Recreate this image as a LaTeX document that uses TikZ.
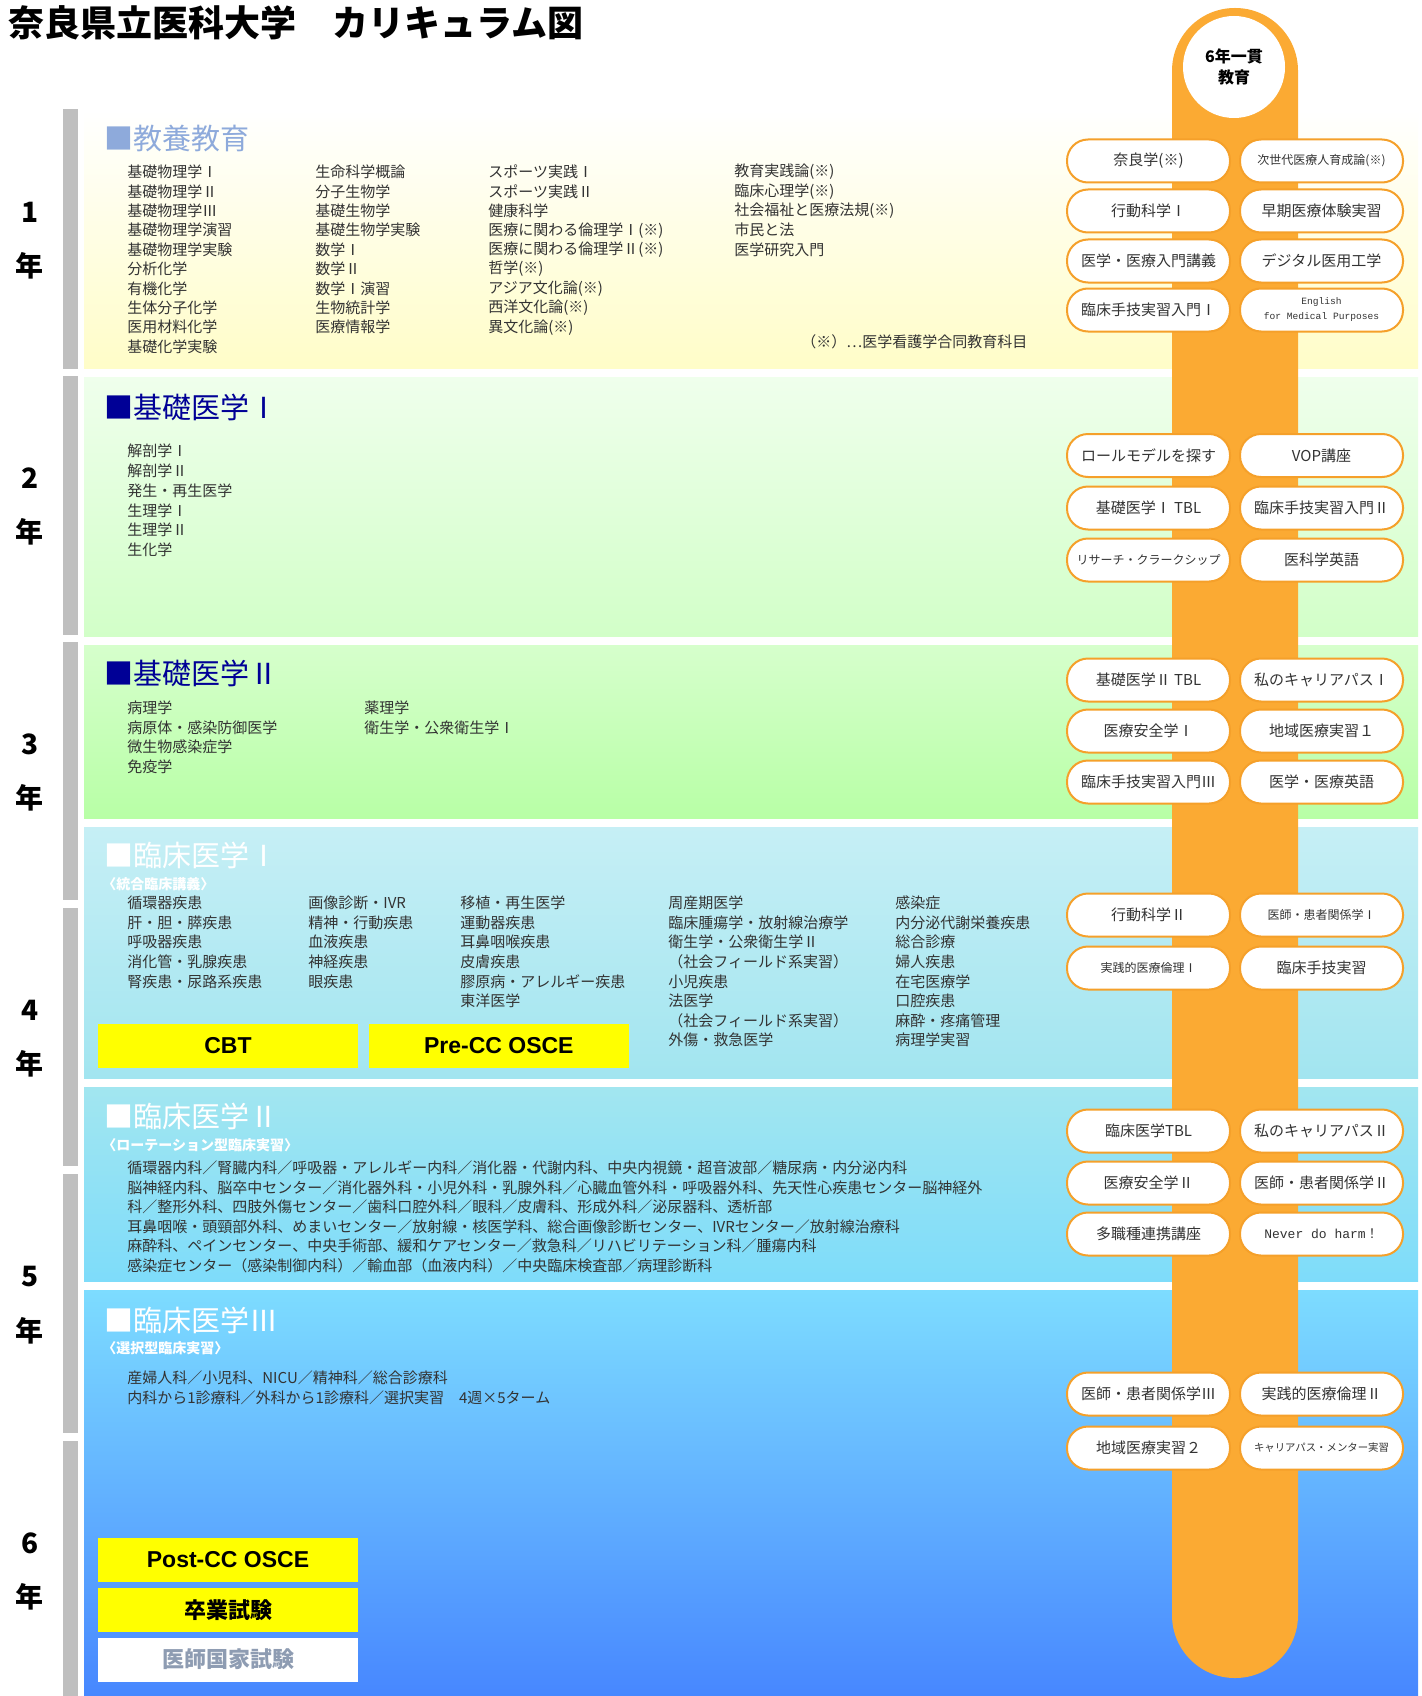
\documentclass[tikz,border=0pt]{standalone}
\usepackage{fontspec}
\setmainfont{Noto Sans CJK JP}
\setsansfont{Liberation Sans}
\setmonofont{Liberation Mono}
\usetikzlibrary{positioning}
\usepackage{xcolor}
\definecolor{txtcol}{HTML}{333333}
\definecolor{barcol}{HTML}{BFBFBF}
\definecolor{pillarcol}{HTML}{FBAA33}
\definecolor{pillline}{HTML}{F5A02A}
\definecolor{kyoyocol}{HTML}{8EAADB}
\definecolor{kisocol}{HTML}{000096}
\definecolor{examyellow}{HTML}{FFFF00}
\definecolor{kokushicol}{HTML}{8E9CB2}
\definecolor{pAtop}{HTML}{FFFFFF}
\definecolor{pAbot}{HTML}{FFFDC8}
\definecolor{pBtop}{HTML}{EFFFEC}
\definecolor{pBbot}{HTML}{D2FFC8}
\definecolor{pCtop}{HTML}{D6FFCC}
\definecolor{pCbot}{HTML}{B8FFA6}
\definecolor{pDtop}{HTML}{C6EFF5}
\definecolor{pDbot}{HTML}{A2E5F0}
\definecolor{pEtop}{HTML}{A2E6F0}
\definecolor{pEbot}{HTML}{7EDCFA}
\definecolor{pFtop}{HTML}{7DDCFF}
\definecolor{pFbot}{HTML}{4787FF}

\begin{document}
\begin{tikzpicture}[
    x=0.5pt, y=-0.5pt,
    pill/.style={
        draw=pillline, line width=1pt, fill=white, rounded corners=10.5pt,
        minimum width=81.5pt, minimum height=21.5pt, inner sep=0pt,
        align=center, text=txtcol, font=\fontsize{7.5}{9}\selectfont
    },
    pillsmall/.style={font=\fontsize{6}{7}\selectfont},
    pilltiny/.style={font=\fontsize{5.2}{6}\selectfont},
    item/.style={
        anchor=west, inner sep=0pt, text=txtcol, font=\fontsize{7.5}{9}\selectfont
    },
    heading/.style={anchor=west, inner sep=0pt, font=\fontsize{14.5}{16}\selectfont},
    subhead/.style={
        anchor=west, inner sep=0pt, text=white, font=\bfseries\fontsize{7}{8}\selectfont
    },
    yearlbl/.style={inner sep=0pt, font=\bfseries\fontsize{14}{16}\selectfont},
    exam/.style={
        fill=examyellow, minimum width=130pt, minimum height=22pt, inner sep=0pt,
        font=\sffamily\bfseries\fontsize{11.5}{13}\selectfont
    },
    examjp/.style={exam, font=\bfseries\fontsize{11}{13}\selectfont},
]

\useasboundingbox (0,0) rectangle (1421,1696);
\fill[white] (0,0) rectangle (1421,1696);

% ── Title ──
\node[anchor=west, inner sep=0pt, font=\bfseries\fontsize{18}{20}\selectfont]
    (title) at (8,23) {奈良県立医科大学　カリキュラム図};

% ── Year bars and labels ──
\foreach \a/\b in {109/369, 376/635, 642/900, 908/1166, 1174/1433, 1441/1696}
    \fill[barcol] (63,\a) rectangle (78,\b);
\foreach \n/\yc in {1/239, 2/505, 3/771, 4/1037, 5/1303.5, 6/1570} {
    \node[yearlbl] (yr\n)  at (30,\yc-27) {\n};
    \node[yearlbl] (nen\n) at (30,\yc+27) {年};
}

% ── Panels ──
\shade[top color=pAtop, bottom color=pAbot] (84,110)  rectangle (1418,368);
\shade[top color=pBtop, bottom color=pBbot] (84,377)  rectangle (1418,636);
\shade[top color=pCtop, bottom color=pCbot] (84,645)  rectangle (1418,818);
\shade[top color=pDtop, bottom color=pDbot] (84,827)  rectangle (1418,1078);
\shade[top color=pEtop, bottom color=pEbot] (84,1087) rectangle (1418,1281);
\shade[top color=pFtop, bottom color=pFbot] (84,1290) rectangle (1418,1696);

% ── 6-year pillar ──
\fill[pillarcol, rounded corners=31.4pt] (1172,8) rectangle (1298,1678);
\node[circle, fill=white, minimum size=51pt, inner sep=0pt, align=center,
      font=\bfseries\fontsize{8}{10.5}\selectfont] (core) at (1234,67)
    {6年一貫\\教育};

% ── Year 1 ──
\node[heading, text=kyoyocol] (kyoyo) at (104,138) {■教養教育};
\foreach \t [count=\i from 0] in {基礎物理学Ⅰ, 基礎物理学Ⅱ, 基礎物理学Ⅲ,
    基礎物理学演習, 基礎物理学実験, 分析化学, 有機化学, 生体分子化学,
    医用材料化学, 基礎化学実験}
    \node[item] (ka\i) at (127,172+19.4*\i) {\t};
\foreach \t [count=\i from 0] in {生命科学概論, 分子生物学, 基礎生物学,
    基礎生物学実験, 数学Ⅰ, 数学Ⅱ, 数学Ⅰ演習, 生物統計学, 医療情報学}
    \node[item] (kb\i) at (315,172+19.4*\i) {\t};
\foreach \t [count=\i from 0] in {スポーツ実践Ⅰ, スポーツ実践Ⅱ, 健康科学,
    医療に関わる倫理学Ⅰ(※), 医療に関わる倫理学Ⅱ(※), 哲学(※),
    アジア文化論(※), 西洋文化論(※), 異文化論(※)}
    \node[item] (kc\i) at (488,172+19.4*\i) {\t};
\foreach \t [count=\i from 0] in {教育実践論(※), 臨床心理学(※),
    社会福祉と医療法規(※), 市民と法, 医学研究入門}
    \node[item] (kd\i) at (734,172+19.4*\i) {\t};
\node[item] (gododan) at (801,342) {（※）…医学看護学合同教育科目};

% ── Year 2 ──
\node[heading, text=kisocol] (kisoA) at (104,407) {■基礎医学Ⅰ};
\foreach \t [count=\i from 0] in {解剖学Ⅰ, 解剖学Ⅱ, 発生・再生医学,
    生理学Ⅰ, 生理学Ⅱ, 生化学}
    \node[item] (ba\i) at (127,451+19.8*\i) {\t};

% ── Year 3 ──
\node[heading, text=kisocol] (kisoB) at (104,673) {■基礎医学Ⅱ};
\foreach \t [count=\i from 0] in {病理学, 病原体・感染防御医学, 微生物感染症学, 免疫学}
    \node[item] (ca\i) at (127,708+19.6*\i) {\t};
\foreach \t [count=\i from 0] in {薬理学, 衛生学・公衆衛生学Ⅰ}
    \node[item] (cb\i) at (364,708+19.6*\i) {\t};

% ── Year 4 ──
\node[heading, text=white] (rinA) at (104,855) {■臨床医学Ⅰ};
\node[subhead] (rinAsub) at (102,884) {〈統合臨床講義〉};
\foreach \t [count=\i from 0] in {循環器疾患, 肝・胆・膵疾患, 呼吸器疾患,
    消化管・乳腺疾患, 腎疾患・尿路系疾患}
    \node[item] (da\i) at (127,903+19.6*\i) {\t};
\foreach \t [count=\i from 0] in {画像診断・IVR, 精神・行動疾患, 血液疾患,
    神経疾患, 眼疾患}
    \node[item] (db\i) at (308,903+19.6*\i) {\t};
\foreach \t [count=\i from 0] in {移植・再生医学, 運動器疾患, 耳鼻咽喉疾患,
    皮膚疾患, 膠原病・アレルギー疾患, 東洋医学}
    \node[item] (dc\i) at (460,903+19.6*\i) {\t};
\foreach \t [count=\i from 0] in {周産期医学, 臨床腫瘍学・放射線治療学,
    衛生学・公衆衛生学Ⅱ, （社会フィールド系実習）, 小児疾患, 法医学,
    （社会フィールド系実習）, 外傷・救急医学}
    \node[item] (dd\i) at (668,903+19.6*\i) {\t};
\foreach \t [count=\i from 0] in {感染症, 内分泌代謝栄養疾患, 総合診療,
    婦人疾患, 在宅医療学, 口腔疾患, 麻酔・疼痛管理, 病理学実習}
    \node[item] (de\i) at (895,903+19.6*\i) {\t};

\node[exam] (cbt) at (228,1046) {CBT};
\node[exam, right=5pt of cbt] (precc) {Pre-CC OSCE};

% ── Year 5 ──
\node[heading, text=white] (rinB) at (104,1116) {■臨床医学Ⅱ};
\node[subhead] (rinBsub) at (102,1145) {〈ローテーション型臨床実習〉};
\foreach \t [count=\i from 0] in {
    循環器内科／腎臓内科／呼吸器・アレルギー内科／消化器・代謝内科、中央内視鏡・超音波部／糖尿病・内分泌内科,
    脳神経内科、脳卒中センター／消化器外科・小児外科・乳腺外科／心臓血管外科・呼吸器外科、先天性心疾患センター脳神経外,
    科／整形外科、四肢外傷センター／歯科口腔外科／眼科／皮膚科、形成外科／泌尿器科、透析部,
    耳鼻咽喉・頭頸部外科、めまいセンター／放射線・核医学科、総合画像診断センター、IVRセンター／放射線治療科,
    麻酔科、ペインセンター、中央手術部、緩和ケアセンター／救急科／リハビリテーション科／腫瘍内科,
    感染症センター（感染制御内科）／輸血部（血液内科）／中央臨床検査部／病理診断科}
    \node[item] (ea\i) at (127,1168+19.5*\i) {\t};

% ── Year 6 ──
\node[heading, text=white] (rinC) at (104,1320) {■臨床医学Ⅲ};
\node[subhead] (rinCsub) at (102,1348) {〈選択型臨床実習〉};
\node[item] (fa0) at (127,1378) {産婦人科／小児科、NICU／精神科／総合診療科};
\node[item] (fa1) at (127,1398) {内科から1診療科／外科から1診療科／選択実習　4週×5ターム};

\node[exam] (postcc) at (228,1560) {Post-CC OSCE};
\node[examjp, below=2.5pt of postcc] (sotsu) {卒業試験};
\node[examjp, fill=white, text=kokushicol, below=2.5pt of sotsu] (kokushi) {医師国家試験};

% ── Pills along the pillar ──
\node[pill] (pA1) at (1148.5,161) {奈良学(※)};
\node[pill, pillsmall, right=4pt of pA1] (qA1) {次世代医療人育成論(※)};
\node[pill] (pA2) at (1148.5,211) {行動科学Ⅰ};
\node[pill, right=4pt of pA2] (qA2) {早期医療体験実習};
\node[pill] (pA3) at (1148.5,261) {医学・医療入門講義};
\node[pill, right=4pt of pA3] (qA3) {デジタル医用工学};
\node[pill] (pA4) at (1148.5,310) {臨床手技実習入門Ⅰ};
\node[pill, font=\ttfamily\fontsize{4.8}{7.5}\selectfont, right=4pt of pA4] (qA4)
    {English\\for Medical Purposes};

\node[pill] (pB1) at (1148.5,455.5) {ロールモデルを探す};
\node[pill, right=4pt of pB1] (qB1) {VOP講座};
\node[pill] (pB2) at (1148.5,508) {基礎医学Ⅰ TBL};
\node[pill, right=4pt of pB2] (qB2) {臨床手技実習入門Ⅱ};
\node[pill, pillsmall] (pB3) at (1148.5,560) {リサーチ・クラークシップ};
\node[pill, right=4pt of pB3] (qB3) {医科学英語};

\node[pill] (pC1) at (1148.5,680) {基礎医学Ⅱ TBL};
\node[pill, right=4pt of pC1] (qC1) {私のキャリアパスⅠ};
\node[pill] (pC2) at (1148.5,731) {医療安全学Ⅰ};
\node[pill, right=4pt of pC2] (qC2) {地域医療実習１};
\node[pill] (pC3) at (1148.5,782) {臨床手技実習入門Ⅲ};
\node[pill, right=4pt of pC3] (qC3) {医学・医療英語};

\node[pill] (pD1) at (1148.5,915) {行動科学Ⅱ};
\node[pill, pillsmall, right=4pt of pD1] (qD1) {医師・患者関係学Ⅰ};
\node[pill, pillsmall] (pD2) at (1148.5,968) {実践的医療倫理Ⅰ};
\node[pill, right=4pt of pD2] (qD2) {臨床手技実習};

\node[pill] (pE1) at (1148.5,1131) {臨床医学TBL};
\node[pill, right=4pt of pE1] (qE1) {私のキャリアパスⅡ};
\node[pill] (pE2) at (1148.5,1183) {医療安全学Ⅱ};
\node[pill, right=4pt of pE2] (qE2) {医師・患者関係学Ⅱ};
\node[pill] (pE3) at (1148.5,1234) {多職種連携講座};
\node[pill, font=\fontsize{6.5}{8}\selectfont, right=4pt of pE3] (qE3)
    {{\ttfamily Never do harm}！};

\node[pill] (pF1) at (1148.5,1394) {医師・患者関係学Ⅲ};
\node[pill, right=4pt of pF1] (qF1) {実践的医療倫理Ⅱ};
\node[pill] (pF2) at (1148.5,1448) {地域医療実習２};
\node[pill, pilltiny, right=4pt of pF2] (qF2) {キャリアパス・メンター実習};

\end{tikzpicture}
\end{document}
